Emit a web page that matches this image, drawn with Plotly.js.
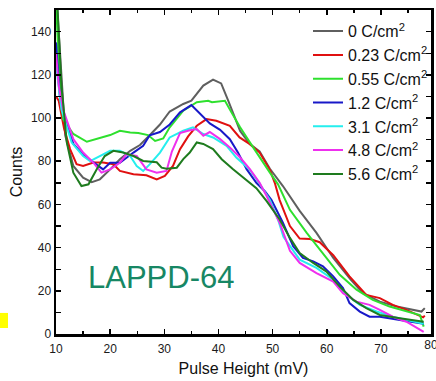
<!DOCTYPE html>
<html>
<head>
<meta charset="utf-8">
<script src="https://cdn.plot.ly/plotly-3.0.1.min.js"></script>
<style>html,body{margin:0;padding:0;background:#fff;}#chart{width:436px;height:381px;}</style>
</head>
<body>
<div id="chart"></div>
<script>
const seriesNames = ["0 C/cm<sup>2</sup>", "0.23 C/cm<sup>2</sup>", "0.55 C/cm<sup>2</sup>", "1.2 C/cm<sup>2</sup>", "3.1 C/cm<sup>2</sup>", "4.8 C/cm<sup>2</sup>", "5.6 C/cm<sup>2</sup>"];
const seriesColors = ["#5f5f5f", "#e01010", "#2ee02e", "#1818c8", "#25eeee", "#ee30ee", "#1e7b1e"];

const pulse_0 = [10, 11, 11.7, 13.2, 15, 16.6, 18.1, 20, 21.8, 23.7, 25.5, 27.3, 29.2, 31, 33.5, 35, 37.2, 39, 40.5, 41.8, 44, 45.8, 47.6, 49.5, 51.9, 55, 58.1, 61.2, 62.4, 64.5, 66.7, 69.8, 72.9, 75.9, 77.5, 78.1];
const counts_0 = [160, 118, 92, 77.8, 72.4, 70.3, 71.6, 76.2, 80.9, 84.8, 87.5, 92, 97, 103, 106.5, 108, 115, 117.8, 116, 108, 94, 88, 84.5, 76.5, 68.5, 57, 46.8, 35.2, 31.3, 25, 18.9, 15, 12.7, 11.2, 10.4, 12];

const pulse_023 = [10, 10.5, 11.5, 12.6, 13.8, 15, 16.9, 18.7, 20.6, 21.8, 24.3, 26.7, 28.6, 30.1, 31.6, 32.9, 33.5, 34.4, 36, 37.8, 39.6, 42.1, 43.9, 45.8, 47.6, 49.5, 50.4, 51.3, 53.2, 55, 56.9, 58.7, 61.2, 64.2, 67.3, 69.8, 72.2, 74.7, 77.8, 78.1];
const counts_023 = [110, 108, 95, 85.6, 78.6, 77.8, 79.4, 79.4, 78.6, 75.5, 74, 73.5, 71.6, 73.2, 77.8, 85.6, 87.9, 91.5, 96.4, 99.5, 98.7, 96.4, 91, 87.9, 84, 76, 70, 62, 50, 44.2, 44, 42.5, 36.5, 26.7, 18.1, 16.6, 13.5, 11.2, 7.7, 8.5];

const pulse_055 = [10, 10.5, 11.3, 13.2, 15.7, 17.5, 20, 21.8, 23.7, 25.2, 27, 28.3, 29.8, 31, 33.5, 36, 38.1, 38.8, 41.2, 42.4, 44, 45.8, 47.6, 49.5, 51, 53.2, 56.3, 59.3, 62.4, 65.5, 68.5, 71.6, 74.7, 77.2, 77.9];
const counts_055 = [155, 125, 99.5, 92.6, 89, 90.2, 92.1, 94.1, 93.3, 93.1, 92.1, 89.4, 90.5, 95.7, 103.4, 107.3, 108, 107.3, 108, 102.6, 95.7, 88.7, 81.7, 74.7, 69.3, 57.5, 46.8, 37.5, 27.4, 20.5, 15.8, 12.7, 10.4, 8.8, 3.4];

const pulse_12 = [10, 10.7, 11.7, 13.2, 15, 17.5, 18.7, 20, 21.8, 24.3, 26.1, 27.3, 29.2, 31, 32.9, 35, 36.6, 38.4, 40.3, 42.1, 43.6, 45.2, 47, 48.6, 49.8, 51.9, 53.8, 55.6, 57.5, 59.3, 61.2, 63, 64.2, 66.1, 67.9, 69.8, 73.5, 77.9];
const counts_12 = [135, 110, 100, 88, 83, 78.5, 76.2, 79.3, 79.3, 84, 87.1, 92, 93.5, 97, 102.6, 106, 101.9, 97.5, 94.5, 90.2, 84, 76.3, 70, 66, 62, 51.5, 40.6, 35.2, 33.6, 31.3, 26.7, 21.3, 14.3, 10.4, 8, 8, 6.5, 4.7];

const pulse_31 = [10, 11, 12.9, 15, 16.3, 18.1, 20, 21.8, 23.7, 24.9, 26.1, 27.3, 29.2, 31, 33.5, 35.3, 37.2, 39, 41.5, 43.3, 45.8, 47.5, 49.5, 51, 52, 55, 58.1, 61.2, 63.7, 66.1, 69.2, 72.2, 75.9, 77.9];
const counts_31 = [125, 104, 88.6, 82.4, 80, 82.4, 84.8, 84.8, 82.4, 77.8, 75.5, 78.5, 84, 91, 94.1, 95.7, 92.6, 91, 87.1, 81.7, 76, 70, 62, 53, 45, 34.4, 30.6, 25.1, 18.1, 13.5, 10.4, 8, 5.7, 4.7];

const pulse_48 = [10, 10.5, 11.3, 13.2, 15, 16.9, 18.4, 20, 21.8, 23, 24.9, 26.7, 28.6, 30.4, 31.4, 32.9, 34.7, 36, 37.2, 38.4, 40.3, 42.1, 44, 45.8, 47.6, 48.9, 51.3, 53.2, 55, 58.1, 61.2, 63, 65.5, 67.9, 69.8, 72.2, 74.7, 77.9];
const counts_48 = [130, 115, 104, 90.2, 84, 79.3, 74.7, 76.2, 79.3, 83.2, 82.4, 76.2, 74.7, 75.5, 84.5, 93, 94.3, 94.9, 91.8, 93.5, 90.2, 86.4, 81.7, 76.3, 70, 63.9, 51.5, 38.5, 32.9, 28.2, 24.3, 18.9, 15, 13.5, 11.2, 8, 5.7, 1];

const pulse_56 = [10, 11, 12, 13.2, 14.7, 16, 17.5, 19, 20.6, 22.4, 24.3, 26.1, 28.6, 29.5, 30.4, 32.3, 33.5, 34.7, 36, 37.2, 39, 40.6, 42.7, 44.6, 47, 48.9, 51.3, 53.2, 55, 57.5, 59.9, 62.4, 64.9, 67.3, 69.8, 73.5, 77.9];
const counts_56 = [165, 115, 88.6, 74.7, 68.5, 69.3, 76.2, 82.4, 84.8, 84, 82.4, 80.1, 79.5, 77, 76.5, 77, 81, 84, 88.7, 88, 85.6, 80.9, 76.3, 72.5, 67.5, 61.5, 53, 44.5, 37.5, 32.9, 29, 22, 15.8, 12, 8.8, 7.3, 5.7];

const xSeries = [pulse_0, pulse_023, pulse_055, pulse_12, pulse_31, pulse_48, pulse_56];
const ySeries = [counts_0, counts_023, counts_055, counts_12, counts_31, counts_48, counts_56];

const xTickVals = [10, 20, 30, 40, 50, 60, 70];
const xTickValsBeyond = [80];
const yTickVals = [0, 20, 40, 60, 80, 100, 120, 140];

const FONT = "Liberation Sans, Arial, Helvetica, sans-serif";

const traces = seriesNames.map((name, i) => ({
  type: "scatter",
  mode: "lines",
  name: name,
  x: xSeries[i],
  y: ySeries[i],
  line: {color: seriesColors[i], width: 2},
  hoverinfo: "skip"
}));
// empty helper trace so the secondary x axis (only carries the cut-off "80" label) is drawn
traces.push({type: "scatter", mode: "lines", x: [], y: [], xaxis: "x2", yaxis: "y", showlegend: false, hoverinfo: "skip"});

const axisCommon = {
  showline: true, linecolor: "#000", linewidth: 2.5, mirror: "allticks",
  ticks: "inside", ticklen: 5, tickwidth: 1.6, tickcolor: "#000",
  showgrid: false, zeroline: false,
  tickfont: {family: FONT, size: 12, color: "#1a1a1a"}
};

const PW = 379; // plot-area width in px (56..435)
const layout = {
  width: 436, height: 381,
  margin: {l: 56, r: 1, t: 10, b: 47},
  paper_bgcolor: "#fff", plot_bgcolor: "rgba(0,0,0,0)",
  showlegend: true,
  legend: {
    x: 252 / PW, xanchor: "left", y: 0.987, yanchor: "top",
    bgcolor: "rgba(0,0,0,0)", borderwidth: 0,
    font: {family: FONT, size: 16, color: "#111"}
  },
  xaxis: Object.assign({}, axisCommon, {
    domain: [0, 375 / PW],
    range: [10, 79.25], tickmode: "array", tickvals: xTickVals, ticklabelstandoff: 2,
    minor: {ticks: "inside", ticklen: 3, tickwidth: 1.4, dtick: 5, tick0: 0, tickcolor: "#000"},
    title: {text: "Pulse Height (mV)", font: {family: FONT, size: 16, color: "#111"}, standoff: 8}
  }),
  xaxis2: {
    domain: [0, 1], anchor: "y", overlaying: "x", side: "bottom",
    range: [10, 80], tickmode: "array", tickvals: xTickValsBeyond, ticklabelstandoff: 2,
    ticklabeloverflow: "allow",
    showline: false, ticks: "", showgrid: false, zeroline: false, showticklabels: true,
    tickfont: {family: FONT, size: 12, color: "#1a1a1a"}
  },
  yaxis: Object.assign({}, axisCommon, {
    range: [0, 150], tickmode: "array", tickvals: yTickVals,
    minor: {ticks: "inside", ticklen: 3, tickwidth: 1.4, dtick: 10, tick0: 0, tickcolor: "#000"},
    title: {text: "Counts", font: {family: FONT, size: 16, color: "#111"}, standoff: 5}
  }),
  annotations: [
    {xref: "paper", yref: "paper", x: 30 / PW, y: 0.173, xanchor: "left", yanchor: "middle",
     text: "LAPPD-64", showarrow: false, font: {family: FONT, size: 31, color: "#178764"}}
  ],
  shapes: [
    {type: "rect", xref: "paper", yref: "paper", x0: -56 / PW, x1: -48 / PW, y0: 0.0185, y1: 0.065,
     fillcolor: "#ffff00", line: {width: 0}}
  ]
};

Plotly.newPlot("chart", traces, layout, {staticPlot: true, displayModeBar: false});
</script>
</body>
</html>
